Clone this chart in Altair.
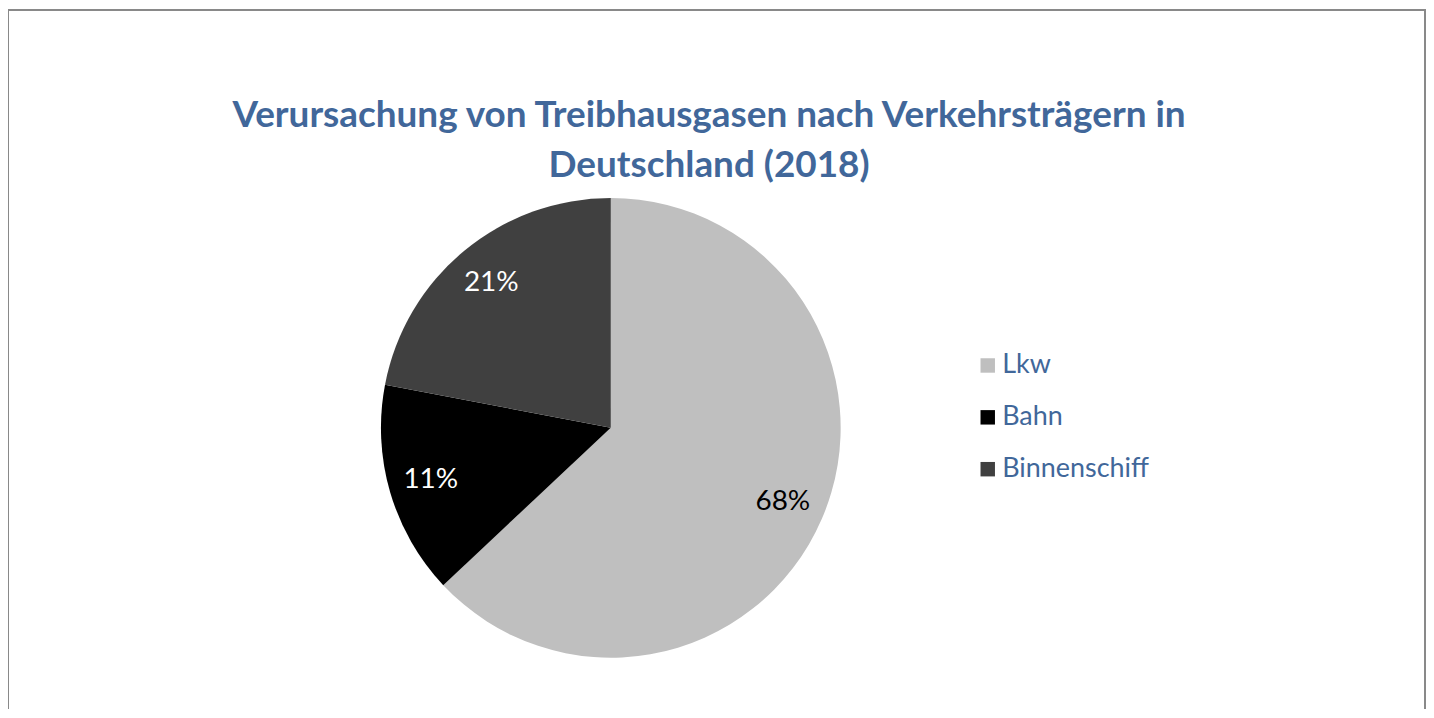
import altair as alt
import pandas as pd

categories = ["Lkw", "Bahn", "Binnenschiff"]
shares = [63, 15, 22]            # slice sizes as drawn
labels = ["68%", "11%", "21%"]   # printed data labels
colors = ["#BFBFBF", "#000000", "#404040"]
title_lines = ["Verursachung von Treibhausgasen nach Verkehrsträgern in",
               "Deutschland (2018)"]

TITLE_COLOR = "#41679A"
W, H = 1422, 702
CX, CY = 604.5, 420
R = 230.5

df = pd.DataFrame({
    "cat": categories,
    "share": shares,
    "label": labels,
    "idx": list(range(len(categories))),
})

base = alt.Chart(df).encode(
    theta=alt.Theta("share:Q", stack=True),
    order=alt.Order("idx:O", sort="ascending"),
)

pie = base.mark_arc(outerRadius=R, stroke=None).encode(
    x=alt.value(CX), y=alt.value(CY),
    color=alt.Color(
        "cat:N",
        scale=alt.Scale(domain=categories, range=colors),
        sort=categories,
        legend=alt.Legend(
            title=None, orient="none", legendX=969, legendY=344,
            symbolType="square", symbolSize=210, symbolStrokeWidth=0,
            symbolOpacity=1,
            labelFont="Lato", labelFontSize=27, labelColor=TITLE_COLOR,
            rowPadding=24, labelOffset=1, padding=0,
        ),
    ),
)

txt = base.mark_text(radius=188, font="Lato", fontSize=28,
                     align="center", baseline="middle").encode(
    x=alt.value(CX), y=alt.value(CY), text="label:N",
    color=alt.condition(alt.datum.cat == "Lkw", alt.value("#000000"), alt.value("#FFFFFF")),
)

tdf = pd.DataFrame({"t": title_lines, "line": [0, 1]})
title1 = alt.Chart(tdf).transform_filter(alt.datum.line == 0).mark_text(
    font="Lato", fontSize=37, fontWeight="bold", color=TITLE_COLOR,
    align="center", baseline="alphabetic").encode(
    x=alt.value(703), y=alt.value(118), text="t:N")
title2 = alt.Chart(tdf).transform_filter(alt.datum.line == 1).mark_text(
    font="Lato", fontSize=37, fontWeight="bold", color=TITLE_COLOR,
    align="center", baseline="alphabetic").encode(
    x=alt.value(703), y=alt.value(168), text="t:N")

bdf = pd.DataFrame({"b": [0]})
border_style = dict(color="#898989", strokeWidth=2)
left = alt.Chart(bdf).mark_rule(**border_style).encode(
    x=alt.value(0), y=alt.value(0), y2=alt.value(H))
top = alt.Chart(bdf).mark_rule(**border_style).encode(
    x=alt.value(0), x2=alt.value(W), y=alt.value(1))
right = alt.Chart(bdf).mark_rule(**border_style).encode(
    x=alt.value(W - 1), y=alt.value(0), y2=alt.value(H))

chart = alt.layer(pie, txt, title1, title2, left, top, right).properties(
    width=W, height=H, padding=0,
    autosize=alt.AutoSizeParams(type="none"),
    background="white",
).configure_view(stroke=None)

chart.save("out.html", embed_options={"renderer": "svg", "actions": False})
